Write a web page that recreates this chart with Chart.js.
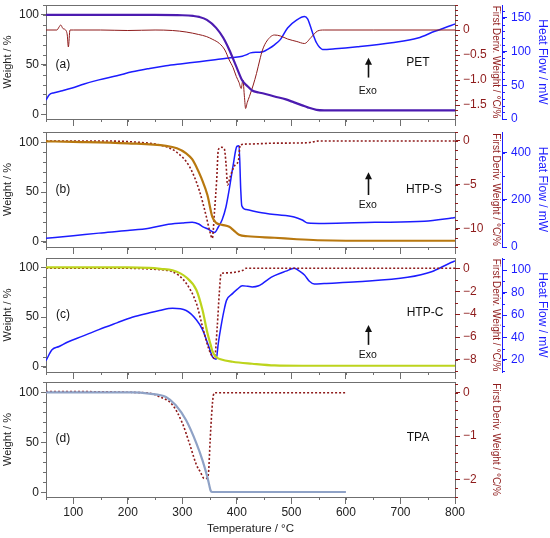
<!DOCTYPE html>
<html>
<head>
<meta charset="utf-8">
<script src="https://cdn.jsdelivr.net/npm/chart.js@4.4.1/dist/chart.umd.min.js"></script>
<style>
  body { margin: 0; background: #fff; }
  #wrap { position: relative; width: 550px; height: 538px; }
  canvas { position: absolute; left: 0; top: 0; }
</style>
</head>
<body>
<div id="wrap">
  <canvas id="pa" width="550" height="538"></canvas>
  <canvas id="pb" width="550" height="538"></canvas>
  <canvas id="pc" width="550" height="538"></canvas>
  <canvas id="pd" width="550" height="538"></canvas>
</div>
<script>
// shared ticks
const tempTicks = [100, 200, 300, 400, 500, 600, 700, 800];
const weightTicks = [0, 50, 100];

// (a) PET
const petWeightT = [50, 250, 300, 320, 331, 345, 362, 375, 386, 399, 410, 420, 428, 440, 449, 469, 490, 505, 520, 530, 546, 560, 800];
const petWeight  = [100, 100, 99.7, 99, 98, 95, 87, 77, 65, 48, 34, 28, 24, 22, 21, 18, 15, 12, 9, 7, 4.5, 4, 4];
const petDerivT = [50, 70, 74, 77, 81, 86, 89, 91, 94, 100, 150, 200, 250, 282, 307, 330, 344, 356, 368, 378, 386, 393, 399, 404, 408, 411, 414, 416, 419, 423, 430, 436, 442, 447, 455, 469, 480, 493, 510, 524, 536, 548, 560, 650, 800];
const petDeriv  = [0, 0, 0.06, 0.1, 0.03, 0, -0.1, -0.34, 0, 0, 0, -0.01, 0, -0.01, -0.04, -0.09, -0.13, -0.19, -0.27, -0.4, -0.6, -0.75, -0.93, -1.05, -1.17, -1.0, -1.35, -1.57, -1.45, -1.33, -1.1, -0.87, -0.6, -0.4, -0.22, -0.1, -0.12, -0.18, -0.23, -0.27, -0.15, -0.02, 0, 0, 0];
const petHeatT = [50, 56, 65, 80, 98, 120, 147, 180, 208, 240, 270, 300, 331, 360, 392, 410, 417, 425, 440, 449, 458, 469, 480, 493, 510, 524, 530, 535, 540, 546, 552, 557, 580, 621, 684, 732, 763, 794, 800];
const petHeat  = [28, 36, 39, 42, 46, 52, 58, 64, 70, 75, 79, 82, 85, 88, 91, 93, 95, 98, 99, 100, 104, 110, 118, 135, 147, 152, 148, 137, 125, 113, 106, 103, 104, 107, 113, 120, 130, 139, 141];
const petDerivTicks = [0, -0.5, -1, -1.5];
const petHeatTicks = [0, 50, 100, 150];

// (b) HTP-S
const htpsWeightT = [50, 100, 200, 270, 290, 307, 318, 326, 335, 346, 355, 362, 373, 386, 395, 404, 420, 469, 510, 548, 600, 800];
const htpsWeight  = [101, 100.5, 99, 96.5, 94, 89, 83, 75, 64, 47, 25, 19, 17, 15, 11, 7, 5.5, 4, 2.5, 1.5, 1, 1];
const htpsDerivT = [50, 150, 230, 258, 288, 313, 331, 344, 350, 355, 359, 363, 366, 372, 377, 380, 383, 388, 397, 403, 406, 420, 469, 530, 550, 800];
const htpsDeriv  = [0, 0, -0.2, -0.45, -1.2, -2.9, -5.6, -8.6, -10.2, -11.06, -8, -4.4, -1.0, -0.72, -0.9, -2.5, -5.0, -4.0, -2.7, -2.2, -0.45, -0.35, -0.25, -0.2, 0, 0];
const htpsHeatT = [50, 100, 147, 200, 239, 270, 300, 318, 330, 337, 348, 359, 366, 373, 380, 386, 393, 400, 404, 407, 409, 417, 440, 469, 505, 520, 530, 560, 653, 744, 794, 800];
const htpsHeat  = [37, 48, 59, 70, 80, 95, 102, 105, 98, 87, 75, 62, 85, 116, 170, 245, 345, 428, 431, 250, 175, 159, 148, 138, 128, 115, 102, 100, 105, 109, 123, 125];
const htpsDerivTicks = [0, -5, -10];
const htpsHeatTicks = [0, 200, 400];

// (c) HTP-C
const htpcWeightT = [50, 200, 239, 260, 282, 307, 326, 337, 346, 352, 355, 360, 364, 370, 392, 428, 469, 520, 800];
const htpcWeight  = [100, 100, 99.5, 98.5, 97, 90, 77, 57, 34, 22, 16, 11, 9, 7.5, 5, 3, 1.3, 1, 1];
const htpcDerivT = [50, 200, 252, 282, 307, 326, 337, 349, 355, 359, 364, 368, 371, 380, 392, 401, 410, 417, 800];
const htpcDeriv  = [0, 0, -0.1, -0.3, -1.3, -3.1, -5.1, -7.1, -7.7, -7.85, -5.1, -2, -0.46, -0.4, -0.37, -0.3, -0.2, 0, 0];
const htpcHeatT = [50, 61, 74, 90, 116, 147, 180, 208, 240, 258, 282, 307, 326, 337, 344, 350, 355, 362, 366, 371, 376, 381, 392, 401, 410, 420, 428, 440, 447, 458, 469, 490, 505, 515, 524, 533, 542, 560, 621, 713, 757, 790, 800];
const htpcHeat  = [19.4, 29, 32, 36, 41, 47, 53, 58, 62, 64, 66, 64, 55.6, 47, 38, 30, 23, 20.6, 35, 50, 63, 73, 79, 83, 86, 85.5, 85, 86, 88, 92, 95, 99, 101.5, 99, 95.5, 90, 87.5, 88, 89.6, 93.5, 98.5, 106, 108];
const htpcDerivTicks = [0, -2, -4, -6, -8];
const htpcHeatTicks = [20, 40, 60, 80, 100];

// (d) TPA
const tpaWeightT = [50, 208, 239, 270, 288, 307, 326, 337, 346, 349, 352, 355, 600];
const tpaWeight  = [100, 100, 98.7, 95.3, 87, 72, 48.7, 32, 15, 8, 1.5, 0.3, 0.3];
const tpaDerivT = [50, 234, 258, 282, 300, 313, 326, 333, 340, 345, 348, 351, 354, 357, 360, 600];
const tpaDeriv  = [0.03, 0, -0.09, -0.28, -0.7, -1.17, -1.67, -1.83, -1.98, -1.98, -1.85, -1.1, -0.45, -0.05, 0, 0];
const tpaDerivTicks = [0, -1, -2];

Chart.defaults.font.family = "'Liberation Sans', Arial, sans-serif";
Chart.defaults.color = '#222';

const RED = '#8e1b1b';
const BLUE = '#1c1cff';
const FRAME = '#6f6f6f';
const FONT = "'Liberation Sans', Arial, sans-serif";

const pts = (xs, ys) => xs.map((x, i) => ({ x: x, y: ys[i] }));
const minusInt = v => v < 0 ? '\u2212' + Math.abs(v) : String(v);
const minusDec = v => v === 0 ? '0' : '\u2212' + Math.abs(v).toFixed(1);

// frame top line, minor ticks, panel texts and the Exo arrow
const extras = {
  id: 'extras',
  afterDraw(chart, args, o) {
    const { ctx, chartArea: a, scales } = chart;
    ctx.save();
    ctx.lineWidth = 1;
    ctx.strokeStyle = FRAME;
    ctx.beginPath();
    ctx.moveTo(a.left, a.top + 0.5);
    ctx.lineTo(a.right, a.top + 0.5);
    ctx.stroke();

    for (const m of o.minor) {
      const s = scales[m.id];
      ctx.strokeStyle = m.color;
      ctx.beginPath();
      for (let k = Math.ceil(s.min / m.step - 1e-9); k * m.step <= s.max + 1e-9; k++) {
        const v = k * m.step;
        if (s.isHorizontal()) {
          const px = Math.round(s.getPixelForValue(v)) + 0.5;
          ctx.moveTo(px, s.top);
          ctx.lineTo(px, s.top + 3);
        } else {
          const py = Math.round(s.getPixelForValue(v)) + 0.5;
          const x0 = s.position === 'left' ? s.right : s.left;
          const dir = s.position === 'left' ? -1 : 1;
          ctx.moveTo(x0, py);
          ctx.lineTo(x0 + dir * 3, py);
        }
      }
      ctx.stroke();
    }

    const X = scales.x, Y = scales.y;
    ctx.fillStyle = '#111';
    ctx.textAlign = 'center';
    ctx.textBaseline = 'middle';
    for (const n of o.notes) {
      ctx.font = n.size + 'px ' + FONT;
      ctx.fillText(n.text, X.getPixelForValue(n.x), Y.getPixelForValue(n.y));
    }
    if (o.arrow) {
      const ax = Math.round(X.getPixelForValue(o.arrow.x)) + 0.5;
      const y0 = Y.getPixelForValue(o.arrow.y0);
      const y1 = Y.getPixelForValue(o.arrow.y1);
      ctx.strokeStyle = '#111';
      ctx.lineWidth = 1.6;
      ctx.beginPath();
      ctx.moveTo(ax, y0);
      ctx.lineTo(ax, y1 + 5);
      ctx.stroke();
      ctx.beginPath();
      ctx.moveTo(ax, y1);
      ctx.lineTo(ax - 3.5, y1 + 7);
      ctx.lineTo(ax + 3.5, y1 + 7);
      ctx.closePath();
      ctx.fill();
    }
    ctx.restore();
  }
};

function axis(pos, min, max, ticks, color, tickColor, border, title, width, titleSize, fmt, tpad, lpad) {
  return {
    type: 'linear', position: pos, min: min, max: max,
    afterBuildTicks: s => { s.ticks = ticks.map(v => ({ value: v })); },
    afterFit: s => { s.width = width; s.paddingTop = 0; s.paddingBottom = 0; },
    ticks: { color: color, font: { size: 12 }, padding: lpad, callback: v => fmt(v) },
    grid: { drawOnChartArea: false, tickLength: 5, tickColor: tickColor, tickWidth: 1 },
    border: { color: border, width: 1 },
    title: { display: true, text: title, color: color, font: { size: titleSize }, padding: { top: tpad, bottom: 0 } }
  };
}

function panel(id, p) {
  const xh = p.last ? 41 : 8;
  const scales = {
    x: {
      type: 'linear', min: 50, max: 800,
      afterBuildTicks: s => { s.ticks = tempTicks.map(v => ({ value: v })); },
      afterFit: s => { s.height = xh; s.paddingLeft = 0; s.paddingRight = 0; },
      ticks: { display: p.last, color: '#222', font: { size: 12 }, padding: 1, maxRotation: 0 },
      grid: { drawOnChartArea: false, tickLength: 7, tickColor: FRAME },
      border: { color: FRAME },
      title: { display: p.last, text: 'Temperature / \u00b0C', color: '#222', font: { size: 11.5 }, padding: { top: 0, bottom: 2 } }
    },
    y: axis('left', p.wRange[0], p.wRange[1], weightTicks, '#222', FRAME, FRAME, 'Weight / %', 46, 11, String, 1.5, 2),
    yd: axis('right', p.dRange[0], p.dRange[1], p.dTicks, RED, RED, FRAME, 'First Deriv. Weight / \u00b0C/%', 47, 10, p.dFmt, 0, 3)
  };
  const minor = [
    { id: 'x', step: 50, color: FRAME },
    { id: 'y', step: 10, color: FRAME },
    { id: 'yd', step: p.dMinor, color: RED }
  ];
  const datasets = [
    { data: pts(p.weight[0], p.weight[1]), yAxisID: 'y', borderColor: p.wColor, borderWidth: 2.2 },
    { data: pts(p.deriv[0], p.deriv[1]), yAxisID: 'yd', borderColor: RED,
      borderWidth: p.dotted ? 1.6 : 1, borderDash: p.dotted ? [2, 2] : [] }
  ];
  if (p.heat) {
    scales.yh = axis('right', p.hRange[0], p.hRange[1], p.hTicks, BLUE, BLUE, BLUE, 'Heat Flow / mW', 48, 12, String, 0, 4);
    minor.push({ id: 'yh', step: p.hMinor, color: BLUE });
    datasets.push({ data: pts(p.heat[0], p.heat[1]), yAxisID: 'yh', borderColor: BLUE, borderWidth: 1.5 });
  }
  return new Chart(document.getElementById(id), {
    type: 'line',
    data: { datasets: datasets },
    options: {
      responsive: false,
      animation: false,
      elements: { point: { radius: 0 }, line: { cubicInterpolationMode: 'monotone', fill: false } },
      layout: { padding: { top: p.top, bottom: 538 - p.bottom - xh, left: 0, right: p.heat ? 0 : 48 } },
      scales: scales,
      plugins: {
        legend: { display: false },
        tooltip: { enabled: false },
        extras: { minor: minor, notes: p.notes, arrow: p.arrow }
      }
    },
    plugins: [extras]
  });
}

panel('pa', {
  top: 5, bottom: 119, last: false,
  weight: [petWeightT, petWeight], wColor: '#4c1bb0', wRange: [-4.7, 110],
  deriv: [petDerivT, petDeriv], dRange: [-1.78, 0.5], dTicks: petDerivTicks, dFmt: minusDec, dMinor: 0.1, dotted: false,
  heat: [petHeatT, petHeat], hRange: [0, 169], hTicks: petHeatTicks, hMinor: 10,
  notes: [
    { text: '(a)', x: 81, y: 50, size: 12 },
    { text: 'PET', x: 732, y: 52, size: 12 },
    { text: 'Exo', x: 640, y: 23, size: 10.5 }
  ],
  arrow: { x: 640, y0: 37, y1: 57 }
});

panel('pb', {
  top: 132, bottom: 247, last: false,
  weight: [htpsWeightT, htpsWeight], wColor: '#b8780f', wRange: [-5.3, 110.4],
  deriv: [htpsDerivT, htpsDeriv], dRange: [-12.05, 1.02], dTicks: htpsDerivTicks, dFmt: minusInt, dMinor: 1, dotted: true,
  heat: [htpsHeatT, htpsHeat], hRange: [0, 489], hTicks: htpsHeatTicks, hMinor: 100,
  notes: [
    { text: '(b)', x: 81, y: 52, size: 12 },
    { text: 'HTP-S', x: 743, y: 52, size: 12 },
    { text: 'Exo', x: 640, y: 37, size: 10.5 }
  ],
  arrow: { x: 640, y0: 47, y1: 70 }
});

panel('pc', {
  top: 258, bottom: 372, last: false,
  weight: [htpcWeightT, htpcWeight], wColor: '#bdd41c', wRange: [-5.3, 109.4],
  deriv: [htpcDerivT, htpcDeriv], dRange: [-9.05, 0.9], dTicks: htpcDerivTicks, dFmt: minusInt, dMinor: 1, dotted: true,
  heat: [htpcHeatT, htpcHeat], hRange: [9.3, 110.7], hTicks: htpcHeatTicks, hMinor: 10,
  notes: [
    { text: '(c)', x: 81, y: 52, size: 12 },
    { text: 'HTP-C', x: 745, y: 54, size: 12 },
    { text: 'Exo', x: 640, y: 12, size: 10.5 }
  ],
  arrow: { x: 640, y0: 22, y1: 42 }
});

panel('pd', {
  top: 382, bottom: 497, last: true,
  weight: [tpaWeightT, tpaWeight], wColor: '#8fa2c6', wRange: [-4.7, 110.3],
  deriv: [tpaDerivT, tpaDeriv], dRange: [-2.41, 0.25], dTicks: tpaDerivTicks, dFmt: minusInt, dMinor: 0.2, dotted: true,
  heat: null,
  notes: [
    { text: '(d)', x: 81, y: 54, size: 12 },
    { text: 'TPA', x: 732, y: 55, size: 12 }
  ],
  arrow: null
});
</script>
</body>
</html>
